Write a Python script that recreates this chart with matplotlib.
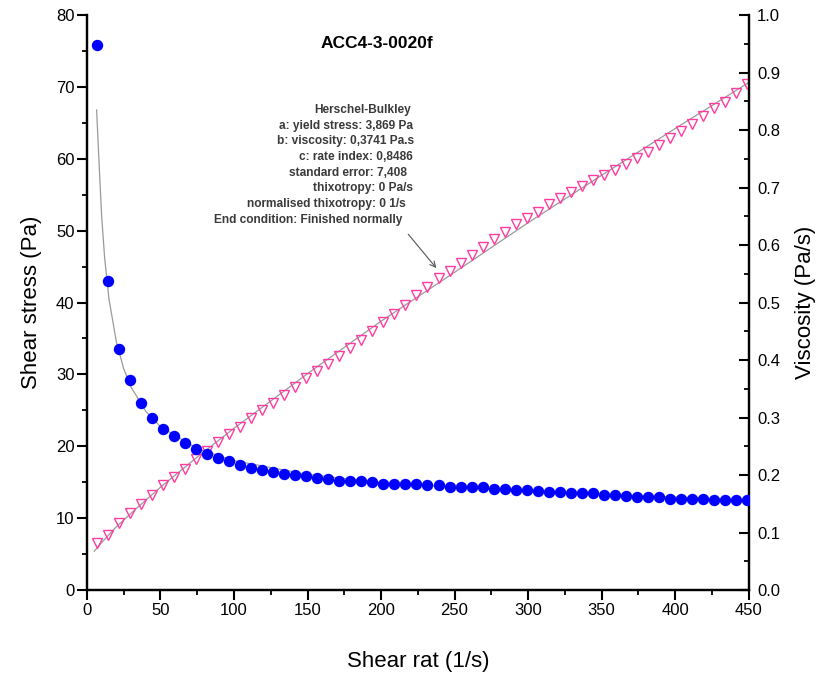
import matplotlib
matplotlib.use('Agg')
import matplotlib.pyplot as plt
from matplotlib.ticker import MultipleLocator

plt.rcParams['font.family'] = ['Liberation Sans', 'DejaVu Sans']

# measured points (shear rate in 1/s)
shear_rate = [6.6, 14.1, 21.6, 29.1, 36.6, 44.1, 51.6, 59.1, 66.6, 74.1,
              81.6, 89.1, 96.6, 104.1, 111.6, 119.1, 126.6, 134.1, 141.6, 149.1,
              156.6, 164.1, 171.6, 179.1, 186.6, 194.1, 201.6, 209.1, 216.6, 224.1,
              231.6, 239.1, 246.6, 254.1, 261.6, 269.1, 276.6, 284.1, 291.6, 299.1,
              306.6, 314.1, 321.6, 329.1, 336.6, 344.1, 351.6, 359.1, 366.6, 374.1,
              381.6, 389.1, 396.6, 404.1, 411.6, 419.1, 426.6, 434.1, 441.6, 449.1]

shear_stress = [6.5, 7.65, 9.3, 10.75, 11.9, 13.25, 14.55, 15.75, 16.9, 18.2,
                19.3, 20.55, 21.65, 22.75, 23.9, 25.0, 26.05, 27.2, 28.3, 29.5,
                30.45, 31.5, 32.6, 33.7, 34.85, 36.05, 37.35, 38.4, 39.7, 41.1,
                42.2, 43.45, 44.35, 45.5, 46.6, 47.75, 48.8, 49.8, 50.9, 51.8,
                52.6, 53.7, 54.5, 55.4, 56.2, 57.0, 57.7, 58.5, 59.3, 60.05,
                61.0, 61.9, 62.9, 63.85, 64.8, 65.95, 67.0, 67.95, 69.2, 70.4]

viscosity = [0.948, 0.538, 0.419, 0.365, 0.325, 0.299, 0.280, 0.267, 0.255, 0.245,
             0.237, 0.230, 0.224, 0.218, 0.213, 0.209, 0.206, 0.201, 0.200, 0.198,
             0.194, 0.193, 0.190, 0.189, 0.189, 0.188, 0.184, 0.184, 0.184, 0.184,
             0.182, 0.182, 0.180, 0.180, 0.179, 0.179, 0.176, 0.176, 0.174, 0.174,
             0.173, 0.170, 0.170, 0.168, 0.168, 0.168, 0.165, 0.165, 0.163, 0.161,
             0.161, 0.161, 0.159, 0.159, 0.159, 0.159, 0.156, 0.156, 0.156, 0.156]

# Herschel-Bulkley fit curves
fit_rate = [5, 10, 20, 35, 50, 75, 100, 150, 200, 250, 300, 350, 400, 450]
fit_stress = [5.4, 6.6, 8.8, 11.6, 14.3, 18.5, 22.5, 30.1, 37.4, 44.2, 51.1, 57.7, 64.2, 70.6]

fit_visc_rate = [6.6, 8, 10, 12, 15, 20, 25, 30, 40, 50, 75, 100, 150, 200, 300, 450]
fit_visc = [0.835, 0.756, 0.651, 0.579, 0.506, 0.432, 0.385, 0.353, 0.311, 0.284,
            0.246, 0.225, 0.201, 0.187, 0.171, 0.157]

info_lines = ['Herschel-Bulkley',
              'a: yield stress: 3,869 Pa',
              'b: viscosity: 0,3741 Pa.s',
              'c: rate index: 0,8486',
              'standard error: 7,408',
              'thixotropy: 0 Pa/s',
              'normalised thixotropy: 0 1/s',
              'End condition: Finished normally']
info_right = [220.5, 221.5, 222.5, 221.5, 217.5, 221.5, 217, 214.5]

fig = plt.figure(figsize=(8.2, 6.74), dpi=100)
ax = fig.add_axes([0.106, 0.1246, 0.807, 0.8531])
ax2 = ax.twinx()

pink = '#ff3ca0'
ax.plot(fit_rate, fit_stress, color='#9a9a9a', lw=0.9, zorder=2)
ax.plot(shear_rate, shear_stress, linestyle='none', marker='v', ms=7.5,
        mfc='none', mec=pink, mew=1.0, zorder=3)

ax2.plot(fit_visc_rate, fit_visc, color='#9a9a9a', lw=0.9, zorder=2)
ax2.plot(shear_rate, viscosity, linestyle='none', marker='o', ms=7.2,
         color='#0000ff', mec='#0000ff', zorder=4)

ax.set_xlim(0, 450)
ax.set_ylim(0, 80)
ax2.set_ylim(0, 1.0)

ax.xaxis.set_major_locator(MultipleLocator(50))
ax.xaxis.set_minor_locator(MultipleLocator(25))
ax.yaxis.set_major_locator(MultipleLocator(10))
ax.yaxis.set_minor_locator(MultipleLocator(5))
ax2.yaxis.set_major_locator(MultipleLocator(0.1))
ax2.yaxis.set_minor_locator(MultipleLocator(0.05))
ax2.yaxis.set_major_formatter(lambda v, p: f'{v:.1f}')

for a in (ax, ax2):
    for s in a.spines.values():
        s.set_linewidth(1.6)
    a.spines['top'].set_visible(False)

ax.tick_params(axis='both', which='major', direction='out', length=7, width=1.5,
               labelsize=12, pad=2)
ax.tick_params(axis='both', which='minor', direction='out', length=3.5, width=1.3)
ax2.tick_params(axis='y', which='major', direction='in', length=7, width=1.5,
                labelsize=12, pad=6)
ax2.tick_params(axis='y', which='minor', direction='in', length=3.5, width=1.3)

ax.set_xlabel('Shear rat (1/s)', fontsize=16, labelpad=24)
ax.set_ylabel('Shear stress (Pa)', fontsize=16, labelpad=10)
ax2.set_ylabel('Viscosity (Pa/s)', fontsize=16, labelpad=11)

ax.text(197, 76, 'ACC4-3-0020f', fontsize=12.5, fontweight='bold',
        ha='center', va='center')

y0 = 66.8
for i, (line, xr) in enumerate(zip(info_lines, info_right)):
    ax.text(xr, y0 - i * 2.18, line, fontsize=8.6, fontweight='bold',
            color='#3a3a3a', ha='right', va='center')

ax.annotate('', xy=(238.8, 44.5), xytext=(217.3, 49.8),
            arrowprops=dict(arrowstyle='->', color='#555555', lw=0.8))

fig.savefig('out.png', dpi=100)
